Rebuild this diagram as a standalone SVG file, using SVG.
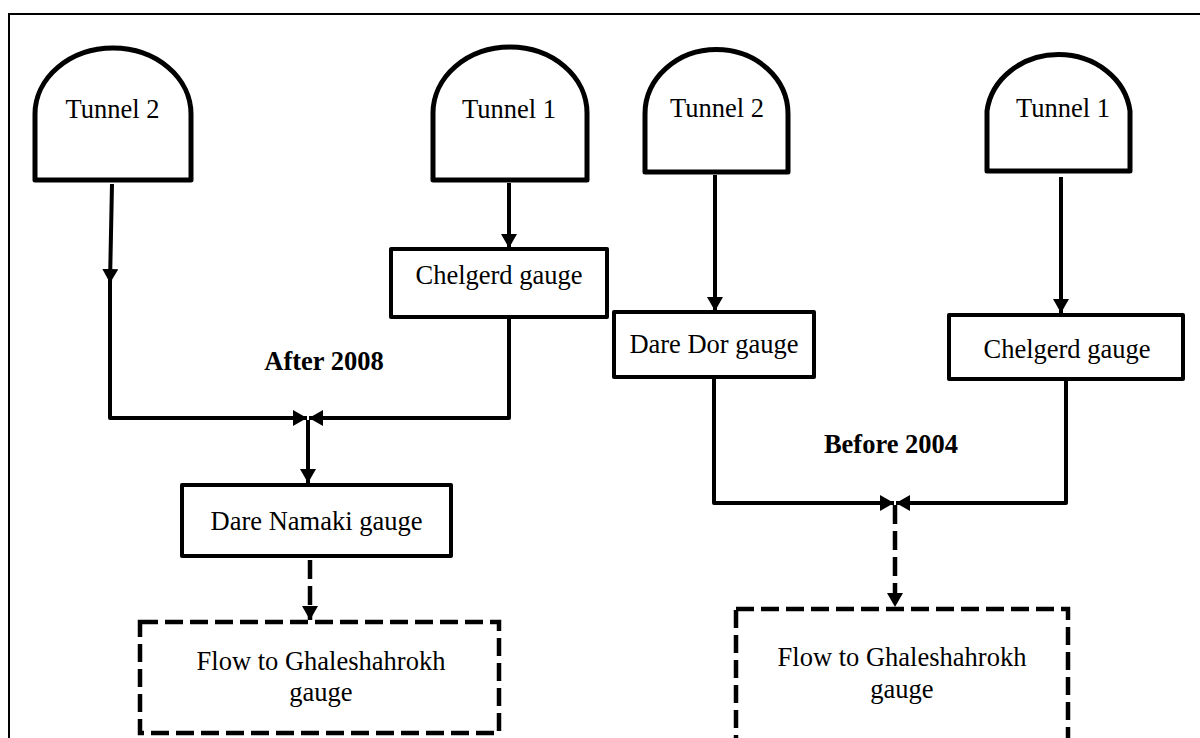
<svg xmlns="http://www.w3.org/2000/svg" width="1200" height="738" viewBox="0 0 1200 738">
<style>
.shape{fill:#fff;stroke:#000;stroke-width:4;stroke-linejoin:round}
.tun{fill:#fff;stroke:#000;stroke-width:5;stroke-linejoin:round}
.dash{fill:#fff;stroke:#000;stroke-width:4.5;stroke-dasharray:18 7}
.t{font-family:"Liberation Serif","Times New Roman",serif;font-size:26.5px;fill:#000;text-anchor:middle}
.b{font-weight:bold}
.c{fill:none;stroke:#000;stroke-width:4;stroke-linejoin:round}
.cd{fill:none;stroke:#000;stroke-width:4.5;stroke-dasharray:19 7}
</style>
<defs>
<marker id="ah" markerUnits="userSpaceOnUse" markerWidth="15" markerHeight="16" refX="14" refY="8" orient="auto">
<path d="M0,0 L14,8 L0,16 Z" fill="#000"/>
</marker>
</defs>
<rect x="0" y="0" width="1200" height="738" fill="#fff"/>
<rect x="9" y="14" width="1200" height="800" fill="none" stroke="#000" stroke-width="2"/>

<g id="connectors">
<path class="c" d="M112,184 L110,283" marker-end="url(#ah)"/>
<path class="c" d="M110,283 L110,418 L307,418" marker-end="url(#ah)"/>
<path class="c" d="M509,319 L509,418 L309,418" marker-end="url(#ah)"/>
<path class="c" d="M308,420 L308,483" marker-end="url(#ah)"/>
<path class="cd" d="M310,560 L310,620" marker-end="url(#ah)"/>
<path class="c" d="M509,183 L509,248" marker-end="url(#ah)"/>
<path class="c" d="M715,175 L715,311" marker-end="url(#ah)"/>
<path class="c" d="M1061,177 L1061,313" marker-end="url(#ah)"/>
<path class="c" d="M714,379 L714,503 L894,503" marker-end="url(#ah)"/>
<path class="c" d="M1066,381 L1066,503 L896,503" marker-end="url(#ah)"/>
<path class="cd" d="M895,505 L895,607" marker-end="url(#ah)"/>
</g>

<g id="tunnel2-left">
<path class="tun" d="M35,180 L35,114 A78,66 0 0 1 191,114 L191,180 Z"/>
<text class="t" x="112.5" y="118">Tunnel 2</text>
</g>
<g id="tunnel1-left">
<path class="tun" d="M433,180 L433,113 A77,66 0 0 1 587,113 L587,180 Z"/>
<text class="t" x="509" y="118">Tunnel 1</text>
</g>
<g id="tunnel2-right">
<path class="tun" d="M645,172 L645,114 A71,64 0 0 1 788,114 L788,172 Z"/>
<text class="t" x="717" y="117">Tunnel 2</text>
</g>
<g id="tunnel1-right">
<path class="tun" d="M987,171 L987,111 A72,64 0 0 1 1130,111 L1130,171 Z"/>
<text class="t" x="1063" y="117">Tunnel 1</text>
</g>

<g id="chelgerd-left">
<rect class="shape" x="391" y="249" width="216" height="68"/>
<text class="t" x="499" y="284">Chelgerd gauge</text>
</g>
<g id="dare-dor">
<rect class="shape" x="614" y="312" width="200" height="65"/>
<text class="t" x="714" y="353">Dare Dor gauge</text>
</g>
<g id="chelgerd-right">
<rect class="shape" x="949" y="315" width="234" height="64"/>
<text class="t" x="1067" y="358">Chelgerd gauge</text>
</g>
<g id="dare-namaki">
<rect class="shape" x="182" y="485" width="269" height="71"/>
<text class="t" x="316.5" y="530">Dare Namaki gauge</text>
</g>
<g id="flow-left">
<rect class="dash" x="140" y="622" width="359" height="111"/>
<text class="t" x="321" y="670">Flow to Ghaleshahrokh</text>
<text class="t" x="321" y="701">gauge</text>
</g>
<g id="flow-right">
<rect class="dash" x="736" y="609" width="332" height="140"/>
<text class="t" x="902" y="666">Flow to Ghaleshahrokh</text>
<text class="t" x="902" y="698">gauge</text>
</g>

<g id="labels">
<text class="t b" x="324" y="370">After 2008</text>
<text class="t b" x="891" y="453">Before 2004</text>
</g>
</svg>
